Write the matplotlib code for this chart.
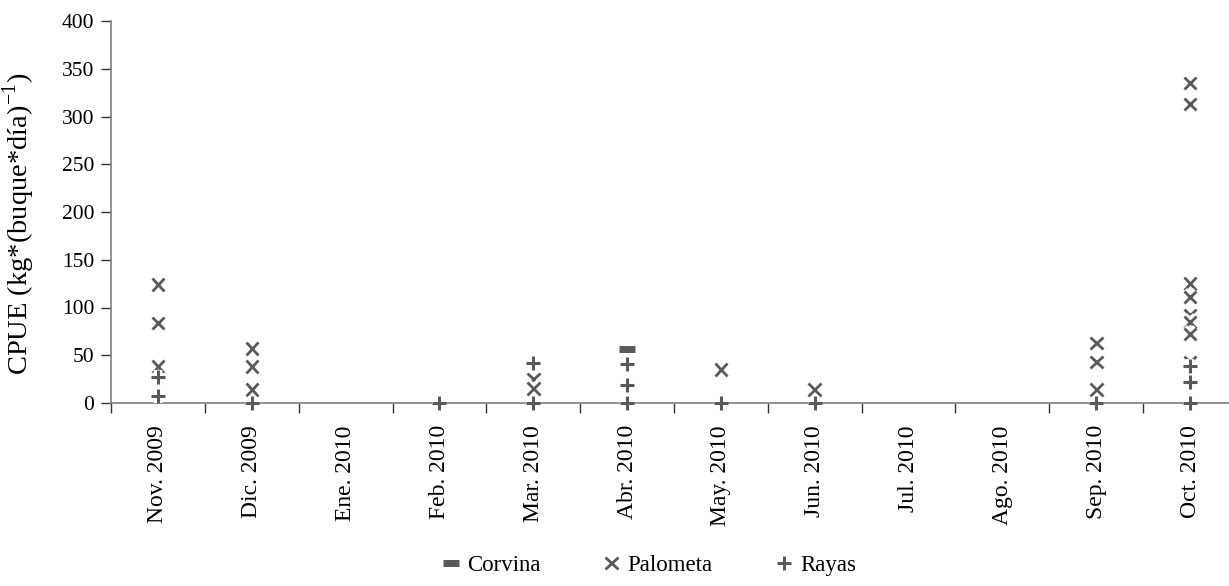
import numpy as np
import matplotlib
matplotlib.use('Agg')
import matplotlib.pyplot as plt
import matplotlib.patheffects as pe

plt.rcParams['font.family'] = 'Liberation Serif'
plt.rcParams['mathtext.fontset'] = 'custom'
plt.rcParams['mathtext.rm'] = 'Liberation Serif'

meses = ['Nov. 2009', 'Dic. 2009', 'Ene. 2010', 'Feb. 2010', 'Mar. 2010', 'Abr. 2010',
         'May. 2010', 'Jun. 2010', 'Jul. 2010', 'Ago. 2010', 'Sep. 2010', 'Oct. 2010']

# indice del mes y CPUE de cada registro
corvina_mes = [5]
corvina_cpue = [57]

palometa_mes = [0, 0, 0, 1, 1, 1, 4, 4, 6, 7, 10, 10, 10,
                11, 11, 11, 11, 11, 11, 11, 11]
palometa_cpue = [124, 84, 38, 57, 38, 14, 25, 15, 35, 14, 63, 43, 14,
                 335, 313, 125, 111, 92, 85, 72, 43]

rayas_mes = [0, 0, 1, 3, 4, 4, 5, 5, 5, 6, 7, 10, 11, 11, 11]
rayas_cpue = [27, 7, 0, 0, 42, 0, 41, 19, 0, 0, 0, 0, 39, 22, 0]

gris = '#595959'
halo = [pe.withStroke(linewidth=6, foreground='white')]

fig = plt.figure(figsize=(12.29, 5.86), dpi=100)
ax = fig.add_axes([111 / 1229, 183 / 586, 1126 / 1229, 382 / 586])

ax.plot(corvina_mes, corvina_cpue, ls='none', marker='_', ms=12, mew=5,
        color=gris, label='Corvina', zorder=3, clip_on=False)
ax.plot(palometa_mes, palometa_cpue, ls='none', marker='x', ms=9, mew=2,
        color=gris, label='Palometa', zorder=3, clip_on=False, path_effects=halo)
ax.plot(rayas_mes, rayas_cpue, ls='none', marker='+', ms=10, mew=2.2,
        color=gris, label='Rayas', zorder=3, clip_on=False, path_effects=halo)

ax.set_xlim(-0.5, len(meses) - 0.5)
ax.set_ylim(0, 400)
ax.set_yticks(np.arange(0, 401, 50))

ax.set_xticks(np.arange(-0.5, len(meses), 1))
ax.set_xticklabels([])
ax.set_xticks(np.arange(len(meses)), minor=True)
ax.set_xticklabels(meses, minor=True, rotation=90, fontsize=17)
ax.tick_params(axis='x', which='major', direction='out', length=7, width=1, color='#333333')
ax.tick_params(axis='x', which='minor', length=0, pad=16)
ax.tick_params(axis='y', direction='out', length=7, width=1, color='#333333', labelsize=15.5, pad=5)

for s in ['top', 'right']:
    ax.spines[s].set_visible(False)
for s in ['left', 'bottom']:
    ax.spines[s].set_color('#7f7f7f')
    ax.spines[s].set_linewidth(1.2)

ax.set_ylabel('CPUE (kg*(buque*día)$^{\\mathrm{-1}}$)', fontsize=20.5)
ax.yaxis.set_label_coords(-0.066, 0.47)

fig.legend(loc='lower center', bbox_to_anchor=(0.527, -0.018), ncol=3, frameon=False,
           fontsize=16.5, columnspacing=2.6, handletextpad=0.2, handlelength=1.0)

fig.savefig('out.png', dpi=100)
